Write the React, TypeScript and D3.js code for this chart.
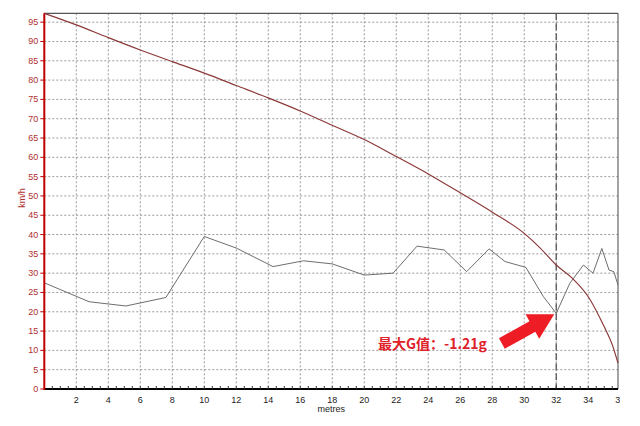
import React from "react";
import * as d3 from "d3";

const speedDist = [0, 2, 4, 6, 8, 10, 12, 14, 16, 18, 20, 22, 24, 26, 28, 30, 31, 32, 33, 34, 35, 35.5, 35.86];
const speedVals = [97.3, 94.3, 91.0, 87.8, 84.8, 81.8, 78.6, 75.4, 72.0, 68.3, 64.6, 60.2, 55.7, 50.8, 45.8, 40.3, 36.5, 32.1, 28.7, 23.9, 16.1, 11.5, 6.7];

const gDist = [0, 2.8, 5.1, 7.6, 10, 12, 14.3, 16.2, 18, 20, 21.8, 23.3, 25, 26.4, 27.8, 28.8, 30.1, 31.2, 32, 32.85, 33.7, 34.3, 34.85, 35.3, 35.6, 35.86];
const gVals = [27.5, 22.6, 21.5, 23.7, 39.5, 36.5, 31.7, 33.2, 32.4, 29.5, 30.0, 37.0, 36.0, 30.4, 36.3, 33.0, 31.5, 23.9, 19.6, 27.4, 32.1, 30.0, 36.4, 30.8, 30.4, 26.9];

const xTicks = [2, 4, 6, 8, 10, 12, 14, 16, 18, 20, 22, 24, 26, 28, 30, 32, 34, 36];
const yTicks = [0, 5, 10, 15, 20, 25, 30, 35, 40, 45, 50, 55, 60, 65, 70, 75, 80, 85, 90, 95];
const markerDist = 32;
const markerVal = 19.6;
const annotation = "最大G值：-1.21g";

export default function App() {
  const left = 44.3, right = 618, top = 13.3, bottom = 389;
  const x = d3.scaleLinear().domain([0, 35.86]).range([left, right]);
  const y = d3.scaleLinear().domain([0, 97.3]).range([bottom, top]);
  const speedLine = d3.line<number>().x((_, i) => x(speedDist[i])).y((d) => y(d)).curve(d3.curveMonotoneX);
  const gLine = d3.line<number>().x((_, i) => x(gDist[i])).y((d) => y(d));
  const minor = d3.range(0.5, 36, 0.5);

  const tipX = x(markerDist) - 2;
  const tipY = y(markerVal) + 1;
  const ang = Math.atan2(-(tipY - 344), tipX - 501);
  const dx = Math.cos(ang), dy = -Math.sin(ang);
  const nx = -dy, ny = dx;
  const len = 60, headLen = 25, headW = 14, shaftW = 6;
  const bx = tipX - dx * headLen, by = tipY - dy * headLen;
  const tx = tipX - dx * len, ty = tipY - dy * len;
  const arrowPts = [
    [tipX, tipY],
    [bx + nx * headW, by + ny * headW],
    [bx + nx * shaftW, by + ny * shaftW],
    [tx + nx * shaftW, ty + ny * shaftW],
    [tx - nx * shaftW, ty - ny * shaftW],
    [bx - nx * shaftW, by - ny * shaftW],
    [bx - nx * headW, by - ny * headW],
  ];

  return (
    <svg width={640} height={426} style={{ position: "absolute", left: 0, top: 0, background: "#fff" }}
      fontFamily="'Liberation Sans', Arial, sans-serif">
      <defs>
        <clipPath id="clipR">
          <rect x={0} y={0} width={620} height={426} />
        </clipPath>
      </defs>
      <rect x={0} y={0} width={640} height={426} fill="#fff" />
      {xTicks.filter((t) => x(t) < right - 1).map((t) => (
        <line key={"gx" + t} x1={x(t)} x2={x(t)} y1={top} y2={bottom} stroke="#999" strokeWidth={1} strokeDasharray="2,2" />
      ))}
      {yTicks.filter((t) => t > 0).map((t) => (
        <line key={"gy" + t} x1={left} x2={right} y1={y(t)} y2={y(t)} stroke="#999" strokeWidth={1} strokeDasharray="2,2" />
      ))}
      <line x1={left} x2={right} y1={top} y2={top} stroke="#555" strokeWidth={1.2} />
      <line x1={right} x2={right} y1={top} y2={bottom} stroke="#666" strokeWidth={1.2} />
      <line x1={x(markerDist)} x2={x(markerDist)} y1={top} y2={bottom} stroke="#555" strokeWidth={1.3} strokeDasharray="7,3" />
      <path d={gLine(gVals) || ""} fill="none" stroke="#6e6e6e" strokeWidth={1} />
      <path d={speedLine(speedVals) || ""} fill="none" stroke="#8c3a3a" strokeWidth={1.2} />
      <line x1={left} x2={right} y1={bottom} y2={bottom} stroke="#000" strokeWidth={2} />
      {minor.filter((t) => x(t) < right).map((t) => (
        <line key={"mt" + t} x1={x(t)} x2={x(t)} y1={bottom - 3} y2={bottom} stroke="#333" strokeWidth={1} />
      ))}
      <g clipPath="url(#clipR)">
        {xTicks.map((t) => (
          <text key={"xl" + t} x={x(t)} y={bottom + 14} textAnchor="middle" fontSize={9} fill="#222">{t}</text>
        ))}
      </g>
      <text x={(left + right) / 2} y={412} textAnchor="middle" fontSize={9} fill="#222">metres</text>
      <line x1={left} x2={left} y1={top} y2={bottom + 1} stroke="#c00000" strokeWidth={2} />
      {yTicks.map((t) => (
        <g key={"yl" + t}>
          <line x1={left - 4} x2={left} y1={y(t)} y2={y(t)} stroke="#c00000" strokeWidth={1} />
          <text x={left - 6} y={y(t) + 3} textAnchor="end" fontSize={9} fill="#b03030">{t}</text>
        </g>
      ))}
      <text transform={`translate(25,${y(50) + 2}) rotate(-90)`} textAnchor="middle" fontSize={9} fill="#b03030">km/h</text>
      <polygon points={arrowPts.map((p) => p.join(",")).join(" ")} fill="#ee1c24" />
      <text x={378} y={349} fontSize={14} fontWeight="bold" fill="#e0222a" fontFamily="'Noto Sans CJK SC', sans-serif">{annotation}</text>
    </svg>
  );
}
